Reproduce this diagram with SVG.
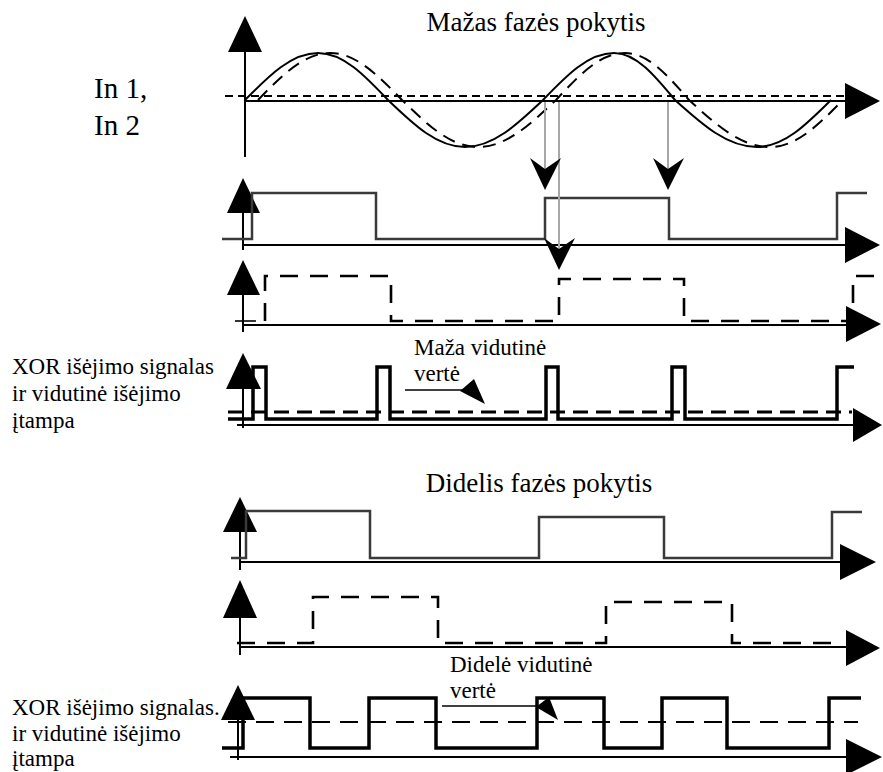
<svg xmlns="http://www.w3.org/2000/svg" width="883" height="772" viewBox="0 0 883 772">
  <style>
    text { font-family: "Liberation Serif", "DejaVu Serif", "Times New Roman", serif; fill: #000; }
    .title { font-size: 27px; }
    .side { font-size: 23px; }
    .axis { stroke: #000; stroke-width: 2; fill: none; }
    .head { fill: #000; stroke: none; }
    .sine { stroke: #000; stroke-width: 2; fill: none; }
    .sineDash { stroke: #000; stroke-width: 2; fill: none; stroke-dasharray: 13 8; }
    .ref { stroke: #000; stroke-width: 2.2; fill: none; stroke-dasharray: 8 5; }
    .sq { stroke: #3a3a3a; stroke-width: 2.5; fill: none; }
    .sqDash { stroke: #000; stroke-width: 2.6; fill: none; stroke-dasharray: 18 12; }
    .xor { stroke: #000; stroke-width: 3.5; fill: none; }
    .avg { stroke: #000; stroke-width: 2.8; fill: none; stroke-dasharray: 15 8; }
    .avg2 { stroke: #000; stroke-width: 2; fill: none; stroke-dasharray: 18 10; }
    .guide { stroke: #a8a8a8; stroke-width: 2; fill: none; }
    .thin { stroke: #000; stroke-width: 1.6; fill: none; }
  </style>
  <defs>
    <!-- chevron head pointing down, tip at origin -->
    <path id="downHead" d="M0,0 L-15,-32 L0,-21 L16,-32 Z" fill="#000"/>
  </defs>

  <!-- small phase shift: input sines -->
  <g id="sine-panel" font-family="Liberation Serif, DejaVu Serif, serif">
    <text class="title" x="536" y="31" text-anchor="middle" font-family="Liberation Serif, DejaVu Serif, serif">Mažas fazės pokytis</text>
    <text x="94" y="98" font-size="29" font-family="Liberation Serif, DejaVu Serif, serif">In 1,</text>
    <text x="94" y="135" font-size="29" font-family="Liberation Serif, DejaVu Serif, serif">In 2</text>
    <line class="axis" x1="245" y1="50" x2="245" y2="157"/>
    <polygon class="head" points="228,52 245,16 262,52"/>
    <line class="axis" x1="245" y1="101" x2="846" y2="101"/>
    <line class="ref" x1="225" y1="96" x2="846" y2="96"/>
    <polygon class="head" points="845,83 880,101 845,119"/>
    <path class="sine" d="M245,100 C269.4,75.3 291.6,53 318,53 C343.3,53 364.6,75.3 388,100 C413.7,124.7 437.1,147 465,147 C493.2,147 516.9,124.7 543,100 C566.7,75.3 588.3,53 614,53 C636.1,53 654.6,75.3 675,100 C702.4,124.7 727.3,147 757,147 C783.8,147 806.3,124.7 831,100"/>
    <path class="sineDash" d="M258,100 C282,75.3 303.9,53 330,53 C356.1,53 378,75.3 402,100 C427.4,124.7 450.5,147 478,147 C506.2,147 529.9,124.7 556,100 C579,75.3 600,53 625,53 C648.2,53 667.6,75.3 689,100 C716.1,124.7 740.7,147 770,147 C796.4,147 818.6,124.7 843,100"/>
  </g>

  <!-- small phase shift: In 1 square wave -->
  <g id="in1-small">
    <line class="axis" x1="243" y1="210" x2="243" y2="250"/>
    <polygon class="head" points="227,213 243,178 260,213"/>
    <line class="axis" x1="243" y1="245" x2="846" y2="245"/>
    <polygon class="head" points="845,227 880,245 845,263"/>
    <path class="sq" d="M222,239 H252 V193 H376 V239 H545 V198 H669 V239 H837 V193 H867"/>
  </g>

  <!-- small phase shift: In 2 square wave -->
  <g id="in2-small">
    <line class="axis" x1="243" y1="292" x2="243" y2="332"/>
    <polygon class="head" points="227,295 243,260 260,295"/>
    <line class="axis" x1="243" y1="325" x2="846" y2="325"/>
    <polygon class="head" points="846,306 881,324 846,342"/>
    <line class="thin" x1="235" y1="321" x2="256" y2="321"/>
    <path class="sqDash" d="M265,321 V276 H391 V321 H559 V279 H684 V321 H853 V276 H876"/>
  </g>

  <!-- small phase shift: XOR output and mean -->
  <g id="xor-small" font-family="Liberation Serif, DejaVu Serif, serif">
    <text class="side" x="12" y="374" font-family="Liberation Serif, DejaVu Serif, serif">XOR išėjimo signalas</text>
    <text class="side" x="12" y="401" font-family="Liberation Serif, DejaVu Serif, serif">ir vidutinė išėjimo</text>
    <text class="side" x="12" y="428" font-family="Liberation Serif, DejaVu Serif, serif">įtampa</text>
    <text class="side" x="414" y="355" font-family="Liberation Serif, DejaVu Serif, serif">Maža vidutinė</text>
    <text class="side" x="414" y="381" font-family="Liberation Serif, DejaVu Serif, serif">vertė</text>
    <line class="axis" x1="243" y1="386" x2="243" y2="428"/>
    <polygon class="head" points="226,389 243,353 261,389"/>
    <line class="axis" x1="237" y1="425" x2="854" y2="425"/>
    <polygon class="head" points="853,408 882,425 853,442"/>
    <line class="avg" x1="228" y1="412" x2="852" y2="412"/>
    <path class="xor" d="M228,419 H253 V367 H266 V419 H377 V367 H390 V419 H546 V367 H558 V419 H672 V367 H685 V419 H837 V367 H854"/>
    <line class="thin" x1="405" y1="390" x2="462" y2="390"/>
    <polygon class="head" points="460,391 474,379 485,404"/>
  </g>

  <!-- sampling guides from the sine crossings -->
  <g id="connectors">
    <line class="guide" x1="545" y1="102" x2="545" y2="185"/>
    <line class="guide" x1="559" y1="102" x2="559" y2="265"/>
    <line class="guide" x1="668" y1="102" x2="668" y2="185"/>
    <use href="#downHead" x="545" y="190"/>
    <use href="#downHead" x="559" y="270"/>
    <use href="#downHead" x="668" y="190"/>
  </g>

  <!-- large phase shift: In 1 square wave -->
  <g id="in1-large" font-family="Liberation Serif, DejaVu Serif, serif">
    <text class="title" x="539" y="492" text-anchor="middle" font-family="Liberation Serif, DejaVu Serif, serif">Didelis fazės pokytis</text>
    <line class="axis" x1="240" y1="530" x2="240" y2="570"/>
    <polygon class="head" points="223,532 240,497 257,532"/>
    <line class="axis" x1="240" y1="562" x2="841" y2="562"/>
    <polygon class="head" points="840,544 876,562 840,580"/>
    <path class="sq" d="M231,558 H246 V511 H370 V558 H539 V517 H664 V558 H832 V512 H862"/>
  </g>

  <!-- large phase shift: In 2 square wave -->
  <g id="in2-large">
    <line class="axis" x1="240" y1="615" x2="240" y2="655"/>
    <polygon class="head" points="223,618 240,580 257,618"/>
    <line class="axis" x1="240" y1="647" x2="847" y2="647"/>
    <polygon class="head" points="846,630 880,648 846,666"/>
    <path class="sqDash" d="M237,643 H313 V597 H438 V643 H606 V602 H732 V643 H843"/>
  </g>

  <!-- large phase shift: XOR output and mean -->
  <g id="xor-large" font-family="Liberation Serif, DejaVu Serif, serif">
    <text class="side" x="12" y="715" font-family="Liberation Serif, DejaVu Serif, serif">XOR išėjimo signalas.</text>
    <text class="side" x="12" y="741" font-family="Liberation Serif, DejaVu Serif, serif">ir vidutinė išėjimo</text>
    <text class="side" x="12" y="766" font-family="Liberation Serif, DejaVu Serif, serif">įtampa</text>
    <text class="side" x="450" y="672" font-size="22" font-family="Liberation Serif, DejaVu Serif, serif">Didelė vidutinė</text>
    <text class="side" x="450" y="698" font-size="22" font-family="Liberation Serif, DejaVu Serif, serif">vertė</text>
    <line class="axis" x1="238" y1="717" x2="238" y2="760"/>
    <polygon class="head" points="221,720 238,685 255,720"/>
    <line class="axis" x1="230" y1="757" x2="847" y2="757"/>
    <polygon class="head" points="846,739 882,757 846,775"/>
    <line class="avg2" x1="228" y1="722" x2="858" y2="722"/>
    <path class="xor" d="M222,748 H243 V698 H310 V748 H369 V698 H436 V748 H537 V698 H604 V748 H662 V698 H727 V748 H829 V698 H861"/>
    <line class="thin" x1="442" y1="706" x2="540" y2="706"/>
    <polygon class="head" points="536,707 549,697 558,720"/>
  </g>
</svg>
